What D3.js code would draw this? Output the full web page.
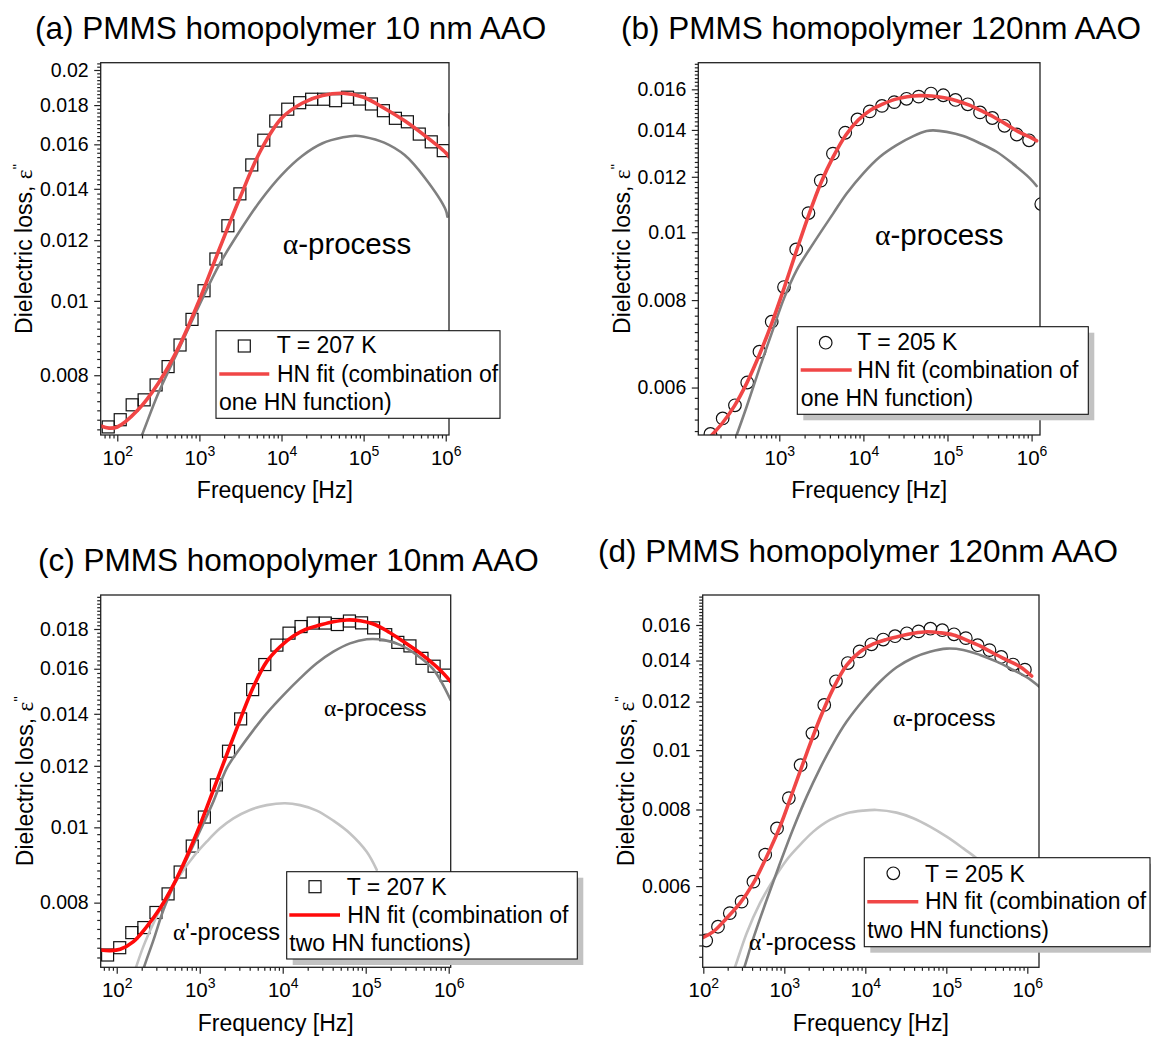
<!DOCTYPE html>
<html>
<head>
<meta charset="utf-8">
<script src="https://cdn.jsdelivr.net/npm/d3@7"></script>
<style>
  body { margin: 0; background: #fff; }
  svg { display: block; }
</style>
</head>
<body>
<div id="chart"></div>
<script>
// measured frequencies (Hz), shared by both samples
const freqHz = [77.6, 108.6, 151.8, 212.3, 297, 415.6, 581, 812.8, 1138, 1589,
  2223, 3112, 4345, 6081, 8511, 11910, 16630, 23280, 32580, 45500,
  63680, 89130, 124500, 174200, 243800, 341200, 476400, 666800, 933300, 1303000];

// 10 nm AAO, T = 207 K (squares)
const lossT207 = [0.00685, 0.00700, 0.00732, 0.00743, 0.00777, 0.00821, 0.00876, 0.00946, 0.01031, 0.01134,
  0.01253, 0.01379, 0.01504, 0.01620, 0.01716, 0.01778, 0.01813, 0.01832, 0.01832, 0.01824,
  0.01843, 0.01833, 0.01806, 0.01770, 0.01730, 0.01712, 0.01650, 0.01612, 0.01570, 0.01722];

// 120 nm AAO, T = 205 K (circles), starts at the second frequency
const lossT205 = [0.00489, 0.00515, 0.00542, 0.00566, 0.00610, 0.00675, 0.00745, 0.00835, 0.00945,
  0.01065, 0.01185, 0.01295, 0.01387, 0.01449, 0.01488, 0.01515, 0.01534, 0.01551, 0.01562,
  0.01578, 0.01569, 0.01545, 0.01523, 0.01483, 0.01456, 0.01419, 0.01379, 0.01353, 0.01097];

// (a) fit and alpha process
const fitA_f = [63.1, 79.4, 100, 178, 316, 562, 1000, 1780, 3160, 5620, 10000, 17800, 31600, 56200, 100000, 178000, 316000, 562000, 1000000, 1096000];
const fitA_v = [0.006868, 0.006826, 0.006848, 0.007206, 0.00781, 0.00871, 0.01003, 0.01174, 0.01368, 0.01573, 0.0173, 0.0181, 0.01852, 0.01865, 0.01843, 0.01783, 0.01717, 0.01641, 0.0156, 0.01541];
const alphaA_f = [158, 200, 316, 562, 1000, 1780, 3160, 5620, 10000, 17800, 31600, 56200, 79400, 100000, 178000, 316000, 562000, 1000000, 1047000];
const alphaA_v = [0.00628, 0.006685, 0.007577, 0.00865, 0.00988, 0.01119, 0.01237, 0.01354, 0.01459, 0.01545, 0.01605, 0.01634, 0.01642, 0.01637, 0.01608, 0.01549, 0.01445, 0.01314, 0.01288];

// (b)
const fitB_f = [126, 158, 212, 292, 409, 578, 813, 1138, 1611, 2239, 3105, 4385, 6166, 8690, 12220, 16940, 23770, 33270, 46240, 64860, 91620, 128500, 178600, 255300, 350800, 496600, 695000, 975000, 1148000];
const fitB_v = [0.00498, 0.005133, 0.005344, 0.005645, 0.006083, 0.006677, 0.007411, 0.008313, 0.00943, 0.01058, 0.01174, 0.01282, 0.01376, 0.01446, 0.01495, 0.01524, 0.01548, 0.01561, 0.01567, 0.01565, 0.01556, 0.01541, 0.0152, 0.0149, 0.01462, 0.01427, 0.01392, 0.01366, 0.01351];
const alphaB_f = [251, 311, 409, 590, 811, 1138, 1611, 2541, 4385, 6324, 9977, 15740, 24830, 39260, 56490, 67760, 97720, 154200, 243200, 383700, 605300, 955000, 1148000];
const alphaB_v = [0.0048, 0.005133, 0.005632, 0.006426, 0.00717, 0.008045, 0.00883, 0.00964, 0.01064, 0.01136, 0.01214, 0.01282, 0.01332, 0.01372, 0.01395, 0.01398, 0.01391, 0.01372, 0.0134, 0.01303, 0.01251, 0.01194, 0.01164];

// (c) two HN functions
const fitC_f = [64.1, 83.2, 110, 159, 230, 333, 482, 697, 1009, 1462, 2113, 3062, 4436, 6412, 9290, 13450, 19450, 28180, 40740, 59020, 85510, 123600, 179100, 259400, 375000, 543300, 787000, 1057000];
const fitC_v = [0.006953, 0.00694, 0.006968, 0.007126, 0.00745, 0.007866, 0.008431, 0.009167, 0.01007, 0.01117, 0.0124, 0.01375, 0.01517, 0.01634, 0.01708, 0.01763, 0.018, 0.01821, 0.01839, 0.01849, 0.01845, 0.01827, 0.01791, 0.01746, 0.017, 0.0165, 0.01594, 0.0154];
const alphaC_f = [178, 213, 277, 365, 482, 697, 1009, 1462, 2113, 3062, 4436, 6412, 10190, 16180, 25700, 40740, 64710, 102800, 163300, 259400, 411100, 653100, 1057000];
const alphaC_v = [0.0062, 0.006606, 0.00716, 0.007827, 0.0084, 0.0091, 0.0099, 0.0108, 0.01191, 0.01264, 0.01334, 0.01402, 0.0148, 0.01555, 0.01626, 0.01683, 0.01725, 0.01746, 0.01743, 0.01717, 0.01667, 0.01597, 0.01458];
const alpha2C_f = [141, 171, 209, 277, 400, 579, 839, 1213, 1758, 2547, 4036, 6412, 10670, 16180, 25700, 40740, 64710, 102800, 135800];
const alpha2C_v = [0.0062, 0.006606, 0.007022, 0.007526, 0.008141, 0.008685, 0.009167, 0.009583, 0.00997, 0.01027, 0.01053, 0.01068, 0.01074, 0.01068, 0.01051, 0.0102, 0.00982, 0.0093, 0.008815];

// (d) two HN functions
const fitD_f = [100, 133, 194, 284, 415, 605, 885, 1294, 1888, 2761, 4027, 5888, 8610, 12560, 18370, 26790, 39170, 57280, 83560, 122200, 178200, 260600, 381100, 555900, 812800, 1132000];
const fitD_v = [0.00495, 0.005056, 0.005317, 0.005626, 0.006065, 0.006701, 0.007501, 0.008608, 0.00988, 0.01127, 0.01261, 0.01376, 0.01447, 0.0149, 0.01516, 0.01535, 0.01551, 0.0156, 0.01554, 0.01541, 0.01512, 0.01479, 0.01439, 0.01403, 0.01368, 0.01321];
const alphaD_f = [282, 321, 415, 605, 885, 1294, 1888, 2761, 4027, 5888, 9462, 15170, 24380, 39170, 62950, 100900, 162200, 260600, 418800, 671400, 981700, 1406000];
const alphaD_v = [0.0042, 0.004423, 0.004933, 0.005695, 0.006537, 0.007456, 0.008397, 0.009339, 0.01026, 0.01113, 0.01207, 0.01293, 0.01365, 0.01415, 0.01447, 0.01464, 0.01457, 0.0143, 0.01394, 0.01351, 0.01315, 0.01269];
const alpha2D_f = [200, 246, 343, 501, 731, 1069, 1563, 2280, 3664, 5888, 9462, 13800, 24380, 39170, 62950, 100900, 162200, 237100];
const alpha2D_v = [0.0041, 0.004423, 0.005026, 0.005626, 0.006139, 0.006619, 0.007003, 0.007362, 0.007693, 0.007888, 0.007967, 0.007987, 0.007907, 0.007742, 0.007501, 0.007223, 0.006913, 0.006663];

// tick labels
const yTicks207 = [0.008, 0.01, 0.012, 0.014, 0.016, 0.018, 0.02];
const yTicks205 = [0.006, 0.008, 0.01, 0.012, 0.014, 0.016];
const xTicks = [1e2, 1e3, 1e4, 1e5, 1e6];

const width = 1151, height = 1037;
const RED = "#f04646", RED_C = "#ff0a0a", GRAY = "#808080", LIGHT = "#c3c3c3";
const SANS = "'Liberation Sans', Arial, sans-serif";
const SERIF = "'Liberation Serif', 'Times New Roman', serif";

const svg = d3.select("#chart").append("svg")
  .attr("width", width)
  .attr("height", height)
  .style("font-family", SANS);

svg.append("rect").attr("width", width).attr("height", height).attr("fill", "#fff");

const panels = [
  {
    id: "a", title: "(a) PMMS homopolymer 10 nm AAO", titleX: 35, titleY: 38.5,
    left: 100.7, right: 449, top: 62.7, bottom: 435,
    xDom: [62.8, 1096000], yDom: [0.006686, 0.020443], yTicks: yTicks207,
    yTitleX: 32, xTitleY: 498,
    marker: "square", points: [freqHz, lossT207], red: RED,
    fit: [fitA_f, fitA_v], alpha: [alphaA_f, alphaA_v], alpha2: null,
    labels: [{ x: 282.7, y: 254, size: 29.5, prime: false }],
    legend: { x: 216, y: 330.7, w: 284, h: 87.6, shadow: false, mx: 244.3, my: 346,
      l0: 219.3, l1: 269.3, ly: 374, t1: [276.7, 353.3], t2: [277, 381.7], t3: [219, 410],
      texts: ["T = 207 K", "HN fit (combination of", "one HN function)"] }
  },
  {
    id: "b", title: "(b) PMMS homopolymer 120nm AAO", titleX: 621, titleY: 38.5,
    left: 698.3, right: 1040, top: 62.7, bottom: 435,
    xDom: [108.9, 1259000], yDom: [0.005133, 0.017464], yTicks: yTicks205,
    yTitleX: 630, xTitleY: 498,
    marker: "circle", points: [freqHz.slice(1), lossT205], red: RED,
    fit: [fitB_f, fitB_v], alpha: [alphaB_f, alphaB_v], alpha2: null,
    labels: [{ x: 875, y: 245, size: 29.5, prime: false }],
    legend: { x: 797.3, y: 326.7, w: 291, h: 87.6, shadow: true, mx: 825.7, my: 342.7,
      l0: 800.7, l1: 851.7, ly: 370, t1: [857.3, 350], t2: [857.3, 378.3], t3: [800.7, 406],
      texts: ["T = 205 K", "HN fit (combination of", "one HN function)"] }
  },
  {
    id: "c", title: "(c) PMMS homopolymer 10nm AAO", titleX: 38, titleY: 571,
    left: 100.7, right: 450.7, top: 595, bottom: 967.3,
    xDom: [64.1, 1057000], yDom: [0.006605, 0.019908], yTicks: yTicks207.slice(0, 6),
    yTitleX: 33, xTitleY: 1031,
    marker: "square", points: [freqHz, lossT207], red: RED_C,
    fit: [fitC_f, fitC_v], alpha: [alphaC_f, alphaC_v], alpha2: [alpha2C_f, alpha2C_v],
    labels: [{ x: 324, y: 716, size: 23.5, prime: false }, { x: 173, y: 940, size: 23.5, prime: true }],
    legend: { x: 286.7, y: 871.7, w: 290.6, h: 87.3, shadow: true, mx: 315, my: 886.7,
      l0: 289.3, l1: 340, ly: 915, t1: [346.7, 895], t2: [347.3, 922.7], t3: [289.3, 950.7],
      texts: ["T = 207 K", "HN fit (combination of", "two HN functions)"] }
  },
  {
    id: "d", title: "(d) PMMS homopolymer 120nm AAO", titleX: 598, titleY: 562,
    left: 702.7, right: 1039, top: 595, bottom: 967.3,
    xDom: [98.3, 1394000], yDom: [0.004422, 0.017909], yTicks: yTicks205,
    yTitleX: 634, xTitleY: 1031,
    marker: "circle", points: [freqHz.slice(1, 29), lossT205.slice(0, 28)], red: RED,
    fit: [fitD_f, fitD_v], alpha: [alphaD_f, alphaD_v], alpha2: [alpha2D_f, alpha2D_v],
    labels: [{ x: 893, y: 726, size: 23.5, prime: false }, { x: 749, y: 950, size: 23.5, prime: true }],
    legend: { x: 864.3, y: 857.7, w: 285.7, h: 89, shadow: true, mx: 893.3, my: 873.3,
      l0: 867.3, l1: 918.3, ly: 901.7, t1: [925, 881.7], t2: [925, 909.3], t3: [867.3, 938.3],
      texts: ["T = 205 K", "HN fit (combination of", "two HN functions)"] }
  }
];

function drawMarker(sel, kind, cx, cy) {
  if (kind === "square") {
    sel.append("rect")
      .attr("x", cx - 6).attr("y", cy - 6)
      .attr("width", 12).attr("height", 12)
      .attr("fill", "none").attr("stroke", "#111").attr("stroke-width", 1.2);
  } else {
    sel.append("circle")
      .attr("cx", cx).attr("cy", cy).attr("r", 6.3)
      .attr("fill", "none").attr("stroke", "#111").attr("stroke-width", 1.2);
  }
}

function styleAxis(g) {
  g.select(".domain").remove();
  g.selectAll(".tick line").attr("stroke", "#222").attr("stroke-width", 1.2);
  g.attr("font-family", SANS).attr("fill", "#000");
}

panels.forEach(p => {
  const x = d3.scaleLog().domain(p.xDom).range([p.left, p.right]);
  const y = d3.scaleLog().domain(p.yDom).range([p.bottom, p.top]);
  const g = svg.append("g");

  g.append("clipPath").attr("id", "clip-" + p.id)
    .append("rect")
    .attr("x", p.left).attr("y", p.top)
    .attr("width", p.right - p.left).attr("height", p.bottom - p.top);

  const plot = g.append("g").attr("clip-path", `url(#clip-${p.id})`);

  // measured points
  const pts = p.points[0].map((f, i) => [f, p.points[1][i]]);
  const mk = plot.append("g");
  pts.forEach(d => drawMarker(mk, p.marker, x(d[0]), y(d[1])));

  // fitted curves
  const line = d3.line()
    .x(d => x(d[0]))
    .y(d => y(d[1]))
    .curve(d3.curveCatmullRom.alpha(0.5));
  const addCurve = (arr, color, w) => {
    plot.append("path")
      .datum(arr[0].map((f, i) => [f, arr[1][i]]))
      .attr("d", line)
      .attr("fill", "none")
      .attr("stroke", color)
      .attr("stroke-width", w)
      .attr("stroke-linecap", "round");
  };
  if (p.alpha2) addCurve(p.alpha2, LIGHT, 2.6);
  addCurve(p.alpha, GRAY, 2.6);
  addCurve(p.fit, p.red, 3.6);

  // frame
  g.append("rect")
    .attr("x", p.left).attr("y", p.top)
    .attr("width", p.right - p.left).attr("height", p.bottom - p.top)
    .attr("fill", "none").attr("stroke", "#222").attr("stroke-width", 1.3);

  // y axis: minor every 0.0002, major from tick labels
  const step = 0.0002;
  const yMinor = d3.range(Math.ceil(p.yDom[0] / step), Math.floor(p.yDom[1] / step) + 1)
    .map(i => +(i * step).toFixed(4))
    .filter(v => !p.yTicks.some(t => Math.abs(t - v) < 1e-7));

  g.append("g")
    .attr("transform", `translate(${p.left},0)`)
    .call(d3.axisLeft(y).tickValues(yMinor).tickSize(3.5).tickFormat(""))
    .call(styleAxis);

  g.append("g")
    .attr("transform", `translate(${p.left},0)`)
    .call(d3.axisLeft(y).tickValues(p.yTicks).tickSize(6.5).tickPadding(5.5)
      .tickFormat(d => String(+d.toFixed(3))))
    .call(styleAxis)
    .call(a => a.selectAll(".tick text").attr("font-size", "19.5px").attr("fill", "#000"));

  // x axis
  const xMinor = [];
  for (let e = 1; e <= 6; e++) {
    for (let m = 2; m <= 9; m++) {
      const v = m * Math.pow(10, e);
      if (v >= p.xDom[0] && v <= p.xDom[1]) xMinor.push(v);
    }
  }
  const xMajor = xTicks.filter(v => v >= p.xDom[0] && v <= p.xDom[1]);

  g.append("g")
    .attr("transform", `translate(0,${p.bottom})`)
    .call(d3.axisBottom(x).tickValues(xMinor).tickSize(3.5).tickFormat(""))
    .call(styleAxis);

  g.append("g")
    .attr("transform", `translate(0,${p.bottom})`)
    .call(d3.axisBottom(x).tickValues(xMajor).tickSize(6.5).tickFormat(() => ""))
    .call(styleAxis)
    .call(a => a.selectAll(".tick text")
      .attr("y", 30).attr("dy", null)
      .attr("font-size", "20.5px").attr("fill", "#000")
      .each(function(d) {
        const t = d3.select(this);
        t.append("tspan").text("10");
        t.append("tspan").attr("dy", -9).attr("font-size", "14px").text(Math.round(Math.log10(d)));
      }));

  // axis titles
  g.append("text")
    .attr("x", (p.left + p.right) / 2)
    .attr("y", p.xTitleY)
    .attr("text-anchor", "middle")
    .attr("font-size", "23px")
    .text("Frequency [Hz]");

  const yt = g.append("text")
    .attr("transform", `translate(${p.yTitleX},${(p.top + p.bottom) / 2}) rotate(-90)`)
    .attr("text-anchor", "middle")
    .attr("font-size", "23px");
  yt.append("tspan").text("Dielectric loss, ");
  yt.append("tspan").attr("font-family", SERIF).text("ε");
  yt.append("tspan").attr("dy", -9).attr("font-size", "15px").text("''");

  // panel title
  g.append("text")
    .attr("x", p.titleX).attr("y", p.titleY)
    .attr("font-size", "31.5px")
    .text(p.title);

  // process labels
  p.labels.forEach(l => {
    const t = g.append("text")
      .attr("x", l.x).attr("y", l.y)
      .attr("font-size", l.size + "px");
    t.append("tspan").attr("font-family", SERIF).text("α");
    t.append("tspan").text(l.prime ? "'-process" : "-process");
  });

  // legend
  const L = p.legend;
  const lg = svg.append("g");
  if (L.shadow) {
    lg.append("rect")
      .attr("x", L.x + 6).attr("y", L.y + 6)
      .attr("width", L.w).attr("height", L.h)
      .attr("fill", "#c2c2c2");
  }
  lg.append("rect")
    .attr("x", L.x).attr("y", L.y)
    .attr("width", L.w).attr("height", L.h)
    .attr("fill", "#fff").attr("stroke", "#111").attr("stroke-width", 1.1);
  drawMarker(lg, p.marker, L.mx, L.my);
  lg.append("line")
    .attr("x1", L.l0).attr("x2", L.l1)
    .attr("y1", L.ly).attr("y2", L.ly)
    .attr("stroke", p.red).attr("stroke-width", 3.6);
  [L.t1, L.t2, L.t3].forEach((pos, i) => {
    lg.append("text")
      .attr("x", pos[0]).attr("y", pos[1])
      .attr("font-size", "23px")
      .text(L.texts[i]);
  });
});
</script>
</body>
</html>
